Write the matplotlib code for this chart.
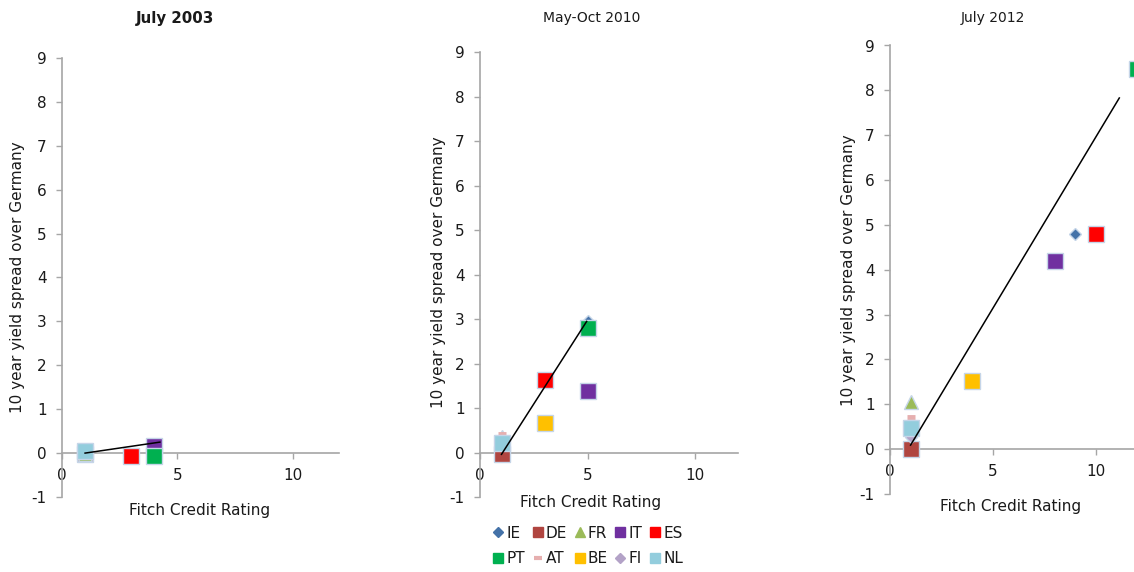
import matplotlib
matplotlib.use("Agg")
import matplotlib.pyplot as plt
from matplotlib.lines import Line2D
import numpy as np

W, H = 1134, 572

countries = ['IE', 'DE', 'FR', 'IT', 'ES', 'PT', 'AT', 'BE', 'FI', 'NL']

# Fitch credit rating (x) and 10y spread over Germany (y), per period
rating_2003 = [1, 1, 1, 4, 3, 4, 1, np.nan, 1, 1]
spread_2003 = [0.03, -0.03, -0.01, 0.16, -0.07, -0.07, 0.03, np.nan, 0.03, 0.05]

rating_2010 = [5, 1, 1, 5, 3, 5, 1, 3, 1, 1]
spread_2010 = [2.96, -0.03, 0.34, 1.38, 1.63, 2.8, 0.42, 0.67, 0.2, 0.21]

rating_2012 = [9, 1, 1, 8, 10, 12, 1, 4, 1, 1]
spread_2012 = [4.8, 0.0, 1.05, 4.2, 4.8, 8.47, 0.71, 1.52, 0.28, 0.47]

# fitted trend lines (end points)
trend_x_2003 = [1, 4.24]
trend_y_2003 = [0.0, 0.25]
trend_x_2010 = [1, 4.96]
trend_y_2010 = [-0.04, 2.95]
trend_x_2012 = [1, 11.14]
trend_y_2012 = [0.09, 7.83]

titles = ['July 2003', 'May-Oct 2010', 'July 2012']
xticks = [0, 5, 10]
yticks = [-1, 0, 1, 2, 3, 4, 5, 6, 7, 8, 9]

colors = {'IE': '#4472A8', 'DE': '#B04540', 'FR': '#9BBB59', 'IT': '#7030A0',
          'ES': '#FF0000', 'PT': '#00B050', 'AT': '#E6AFAF', 'BE': '#FFC000',
          'FI': '#B3A2C7', 'NL': '#93CDDD'}
markers = {'IE': 'D', 'DE': 's', 'FR': '^', 'IT': 's', 'ES': 's', 'PT': 's',
           'AT': '_', 'BE': 's', 'FI': 'D', 'NL': 's'}
msizes = {'IE': 6.4, 'DE': 11, 'FR': 9.5, 'IT': 11, 'ES': 11, 'PT': 11,
          'AT': 6, 'BE': 11, 'FI': 6.5, 'NL': 11}

plt.rcParams['font.family'] = ['DejaVu Sans']
plt.rcParams['axes.unicode_minus'] = False

fig = plt.figure(figsize=(W / 100, H / 100), dpi=100)

rects = [
    [62 / W, 1 - 497 / H, 277 / W, 439 / H],
    [480 / W, 1 - 497 / H, 258 / W, 444.5 / H],
    [890 / W, 1 - 494 / H, 247 / W, 448.5 / H],
]
data = [(rating_2003, spread_2003, trend_x_2003, trend_y_2003),
        (rating_2010, spread_2010, trend_x_2010, trend_y_2010),
        (rating_2012, spread_2012, trend_x_2012, trend_y_2012)]

title_pos = [(175, 18), (592, 18), (993, 18)]
title_weight = ['bold', 'normal', 'normal']
title_size = [10.8, 10, 10]
ylabel_pos = [(18, 277), (438, 272), (848, 270)]
xlabel_pos = [(200, 510), (591, 502), (1011, 506)]

axis_col = '#A6A6A6'
txt_col = '#1A1A1A'

for i, (rect, (xs, ys, tx, ty)) in enumerate(zip(rects, data)):
    ax = fig.add_axes(rect)
    ax.set_xlim(0, 12)
    ax.set_ylim(-1, 9)
    for s in ['top', 'right']:
        ax.spines[s].set_visible(False)
    ax.spines['bottom'].set_position(('data', 0))
    for s in ['left', 'bottom']:
        ax.spines[s].set_color(axis_col)
        ax.spines[s].set_linewidth(1.2)
    ax.set_xticks(xticks)
    ax.set_yticks(yticks)
    ax.tick_params(axis='both', direction='out', length=4, width=1.0,
                   color=axis_col, labelsize=11, labelcolor=txt_col)
    ax.tick_params(axis='x', pad=7)
    ax.tick_params(axis='y', pad=7)
    ax.patch.set_alpha(0)
    for c, x, y in zip(countries, xs, ys):
        if np.isnan(x):
            continue
        mk = markers[c]
        if mk == '_':
            ax.plot([x], [y], marker='_', ms=msizes[c], mew=3.5,
                    color=colors[c], ls='none', clip_on=False, zorder=3)
        else:
            ax.plot([x], [y], marker=mk, ms=msizes[c], color=colors[c],
                    mec='#C5D5E8', mew=1.0, ls='none', clip_on=False, zorder=3)
    ax.plot(tx, ty, color='black', lw=1.1, zorder=4)
    fig.text(title_pos[i][0] / W, 1 - title_pos[i][1] / H, titles[i],
             ha='center', va='center', fontsize=title_size[i],
             fontweight=title_weight[i], color=txt_col)
    fig.text(ylabel_pos[i][0] / W, 1 - ylabel_pos[i][1] / H,
             '10 year yield spread over Germany', rotation=90,
             ha='center', va='center', fontsize=11, color=txt_col)
    fig.text(xlabel_pos[i][0] / W, 1 - xlabel_pos[i][1] / H, 'Fitch Credit Rating',
             ha='center', va='center', fontsize=11, color=txt_col)

# legend handles
leg_handles = {}
for c in countries:
    if markers[c] == '_':
        leg_handles[c] = Line2D([], [], marker='_', ms=6, mew=3, color=colors[c], ls='none')
    else:
        ms = 7 if markers[c] == 's' else (5 if markers[c] == 'D' else 7)
        leg_handles[c] = Line2D([], [], marker=markers[c], ms=ms, color=colors[c],
                                mec=colors[c], ls='none')
order = ['IE', 'PT', 'DE', 'AT', 'FR', 'BE', 'IT', 'FI', 'ES', 'NL']
leg = fig.legend([leg_handles[c] for c in order], order, ncol=5,
                 loc='center', bbox_to_anchor=(588 / W, 1 - 546 / H),
                 frameon=False, fontsize=11, handlelength=0.7, handletextpad=0.2,
                 columnspacing=0.45, labelspacing=0.7, borderpad=0)
for t in leg.get_texts():
    t.set_color(txt_col)

fig.savefig('out.png', dpi=100)
